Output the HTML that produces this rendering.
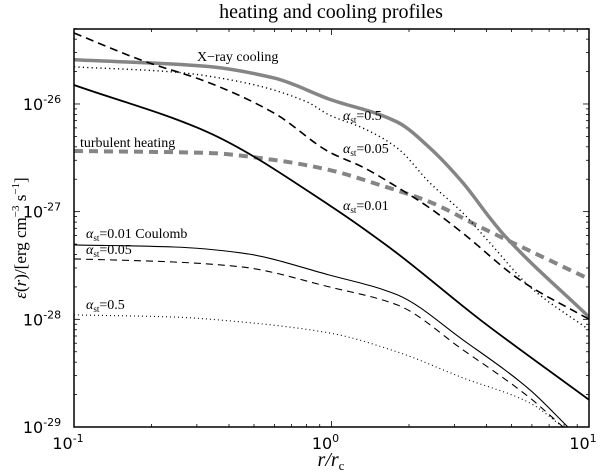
<!DOCTYPE html>
<html><head><meta charset="utf-8"><style>
body{margin:0;background:#fff;}
svg{display:block;}
.serif{font-family:"Liberation Serif",serif;}
.sans{font-family:"DejaVu Sans","Liberation Sans",sans-serif;}
</style></head><body>
<svg id="chart" width="600" height="476" viewBox="0 0 600 476"></svg>
<script>
const xrayR = [0.1,0.32,0.6,0.98,1.8,2.41,3.24,4.13,4.64,10];
const xrayE = [2.57e-26,2.25e-26,1.74e-26,1.11e-26,6.8e-27,3.9e-27,1.85e-27,8.7e-28,6.2e-28,1.05e-28];
const turbR = [0.1,0.329,0.6,0.98,1.54,2.41,3.78,10];
const turbE = [3.66e-27,3.51e-27,3.02e-27,2.44e-27,1.77e-27,1.23e-27,7.2e-28,2.37e-28];
const dot05R = [0.1,0.244,0.446,0.8,0.98,1.32,1.8,2.41,3.24,4.13,5.9,10];
const dot05E = [2.21e-26,1.98e-26,1.6e-26,1.05e-26,7.9e-27,6.0e-27,3.9e-27,1.85e-27,9.7e-28,5.1e-28,2.0e-28,8.0e-29];
const dash005R = [0.1,0.182,0.329,0.6,0.98,1.32,1.8,2.41,3.24,5.4,10];
const dash005E = [4.56e-26,2.56e-26,1.6e-26,8.2e-27,3.58e-27,2.6e-27,1.69e-27,1.08e-27,6.3e-28,2.32e-28,1.0e-28];
const sol001R = [0.1,0.329,0.98,1.73,3.78,10];
const sol001E = [1.5e-26,5.5e-27,1.15e-27,4.4e-28,9.9e-29,1.79e-29];
const coulSolR = [0.1,0.244,0.446,0.98,1.8,3.24,5.9,8.28];
const coulSolE = [4.91e-28,4.7e-28,4.14e-28,2.58e-28,1.69e-28,6.44e-29,2.21e-29,1.0e-29];
const coulDashR = [0.1,0.244,0.446,0.98,1.8,3.24,5.9,7.93];
const coulDashE = [3.64e-28,3.41e-28,3.07e-28,2.0e-28,1.36e-28,5.2e-29,1.86e-29,1.0e-29];
const coulDotR = [0.1,0.244,0.446,0.98,1.8,3.24,5.9,7.93];
const coulDotE = [1.1e-28,1.05e-28,9.46e-29,7.48e-29,4.98e-29,2.86e-29,1.67e-29,1.0e-29];
const xTicks = [0.1,1,10];
const xTickLabels = ["-1","0","1"];
const yTicks = [1e-29,1e-28,1e-27,1e-26];
const yTickLabels = ["-29","-28","-27","-26"];

const NS="http://www.w3.org/2000/svg";
const svg=document.getElementById('chart');
const L=74,R=589,T=29,B=427;
const X0=-1,X1=1, YB=-29, YT=-26+(104-29)/107.7;
function sx(r){return L+(Math.log10(r)-X0)/(X1-X0)*(R-L);}
function sy(e){return B-(Math.log10(e)-YB)/(YT-YB)*(B-T);}
function mk(tag,attrs,parent){const el=document.createElementNS(NS,tag);for(const k in attrs)el.setAttribute(k,attrs[k]);(parent||svg).appendChild(el);return el;}

const defs=mk('defs',{});
const cp=mk('clipPath',{id:'clip'},defs);
mk('rect',{x:L,y:T,width:R-L,height:B-T},cp);

const plot=mk('g',{'clip-path':'url(#clip)'});


function monoPath(pts){
  const n=pts.length, dx=[], m=[], t=new Array(n);
  for(let i=0;i<n-1;i++){dx.push(pts[i+1][0]-pts[i][0]);m.push((pts[i+1][1]-pts[i][1])/dx[i]);}
  t[0]=m[0]; t[n-1]=m[n-2];
  for(let i=1;i<n-1;i++){
    if(m[i-1]*m[i]<=0) t[i]=0;
    else {const w1=2*dx[i]+dx[i-1], w2=dx[i]+2*dx[i-1]; t[i]=(w1+w2)/(w1/m[i-1]+w2/m[i]);}
  }
  let d='M'+pts[0][0].toFixed(1)+','+pts[0][1].toFixed(1);
  for(let i=0;i<n-1;i++){
    const h=dx[i]/3;
    d+=' C'+(pts[i][0]+h).toFixed(1)+','+(pts[i][1]+t[i]*h).toFixed(1)+' '+(pts[i+1][0]-h).toFixed(1)+','+(pts[i+1][1]-t[i+1]*h).toFixed(1)+' '+pts[i+1][0].toFixed(1)+','+pts[i+1][1].toFixed(1);
  }
  return d;
}
function line(rs,es,stroke,w,dash,name){
  const pts=rs.map((r,i)=>[sx(r),sy(es[i])]);
  const p=mk('path',{d:monoPath(pts),fill:'none',stroke:stroke,'stroke-width':w,'stroke-dasharray':dash||'none','stroke-linejoin':'round'},plot);
  
  
}
line(xrayR,xrayE,'#858585',3.5,null,'xray-cooling-line');
line(turbR,turbE,'#858585',4,'9,6','turbulent-heating-line');
line(dot05R,dot05E,'#000',1.4,'1.2,3.2','alpha-0.5-turb-line');
line(dash005R,dash005E,'#000',1.6,'8,5','alpha-0.05-turb-line');
line(sol001R,sol001E,'#000',1.8,null,'alpha-0.01-turb-line');
line(coulSolR,coulSolE,'#000',1.1,null,'alpha-0.01-coulomb-line');
line(coulDashR,coulDashE,'#000',1.1,'7,5','alpha-0.05-coulomb-line');
line(coulDotR,coulDotE,'#000',1.1,'1,3','alpha-0.5-coulomb-line');

const frame=mk('rect',{x:L,y:T,width:R-L,height:B-T,fill:'none',stroke:'#000','stroke-width':1.5});



const ticks=mk('g',{stroke:'#000','stroke-width':0.8});


for(let dec=-1;dec<=1;dec++){
  for(let m=1;m<=9;m++){
    const v=m*Math.pow(10,dec); if(v>10.0001) break;
    const x=sx(v), len=(m===1)?6:3;
    mk('line',{x1:x,y1:B,x2:x,y2:B-len},ticks);
    mk('line',{x1:x,y1:T,x2:x,y2:T+len},ticks);
  }
}
for(let dec=-29;dec<=-26;dec++){
  for(let m=1;m<=9;m++){
    const v=m*Math.pow(10,dec); const y=sy(v); if(y<T-0.5) break;
    const len=(m===1)?6:3;
    mk('line',{x1:L,y1:y,x2:L+len,y2:y},ticks);
    mk('line',{x1:R,y1:y,x2:R-len,y2:y},ticks);
  }
}
xTicks.forEach((v,i)=>{
  const t=mk('text',{x:sx(v)-6,y:B+22,'font-size':16,'text-anchor':'middle',class:'sans'});
  
  
  t.innerHTML='10<tspan dy="-7" font-size="11">'+xTickLabels[i]+'</tspan>';
});
yTicks.forEach((v,i)=>{
  const t=mk('text',{x:L-32,y:sy(v)+6,'font-size':16,'text-anchor':'middle',class:'sans'});
  
  
  t.innerHTML='10<tspan dy="-7" font-size="11">'+yTickLabels[i]+'</tspan>';
});
</script>
<svg style="position:absolute;left:0;top:0" width="600" height="476">
<text class="serif" x="331" y="18" font-size="20" text-anchor="middle">heating and cooling profiles</text>
<text class="serif" x="331" y="466" font-size="20" text-anchor="middle" font-style="italic">r/r<tspan dy="4" font-size="13" font-style="normal">c</tspan></text>
<text class="serif" transform="translate(26,238) rotate(-90)" font-size="17" text-anchor="middle"><tspan font-style="italic">ε̇</tspan>(<tspan font-style="italic">r</tspan>)/[erg cm<tspan dy="-7" font-size="11">−3</tspan><tspan dy="7"> s</tspan><tspan dy="-7" font-size="11">−1</tspan><tspan dy="7">]</tspan></text>
<text class="serif" x="197" y="61" font-size="14">X−ray cooling</text>
<text class="serif" x="80" y="147" font-size="14">turbulent heating</text>
<text class="serif" x="343" y="120" font-size="14"><tspan font-style="italic">α</tspan><tspan dy="3" font-size="9">st</tspan><tspan dy="-3">=0.5</tspan></text>
<text class="serif" x="343" y="153" font-size="14"><tspan font-style="italic">α</tspan><tspan dy="3" font-size="9">st</tspan><tspan dy="-3">=0.05</tspan></text>
<text class="serif" x="343" y="210" font-size="14"><tspan font-style="italic">α</tspan><tspan dy="3" font-size="9">st</tspan><tspan dy="-3">=0.01</tspan></text>
<text class="serif" x="86" y="238" font-size="14"><tspan font-style="italic">α</tspan><tspan dy="3" font-size="9">st</tspan><tspan dy="-3">=0.01 Coulomb</tspan></text>
<text class="serif" x="86" y="254" font-size="14"><tspan font-style="italic">α</tspan><tspan dy="3" font-size="9">st</tspan><tspan dy="-3">=0.05</tspan></text>
<text class="serif" x="86" y="309" font-size="14"><tspan font-style="italic">α</tspan><tspan dy="3" font-size="9">st</tspan><tspan dy="-3">=0.5</tspan></text>
</svg>
</body></html>
